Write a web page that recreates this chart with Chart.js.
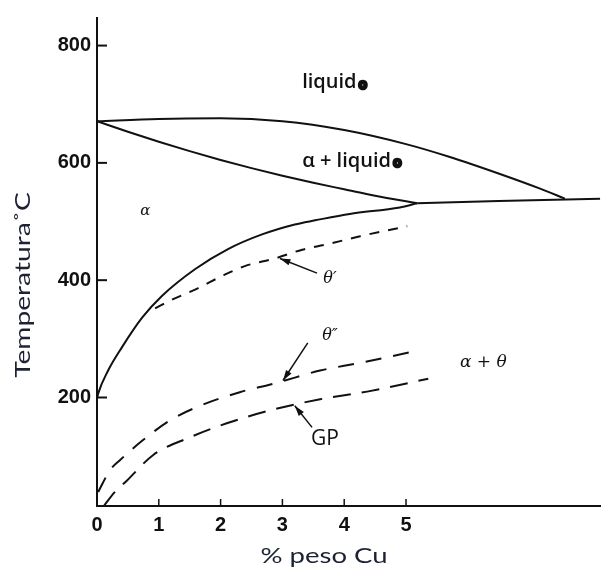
<!DOCTYPE html>
<html>
<head>
<meta charset="utf-8">
<script src="https://cdn.jsdelivr.net/npm/chart.js@4.4.1/dist/chart.umd.min.js"></script>
<style>
  html, body { margin: 0; padding: 0; background: #fff; }
  #wrap { width: 601px; height: 570px; }
</style>
</head>
<body>
<div id="wrap"><canvas id="chart" width="601" height="570"></canvas></div>
<script>
// axis ticks
const xTicks = [0, 1, 2, 3, 4, 5];
const yTicks = [200, 400, 600, 800];

// phase boundaries (% Cu, °C)
const liquidus = [
  [0, 671], [1, 675], [2, 676], [3, 671], [4, 656], [5, 632],
  [5.71, 610], [6.52, 581], [7.17, 556], [7.57, 539]
];
const solidus = [
  [0, 671], [0.5, 653], [1, 636], [1.5, 620], [2, 605], [2.5, 591],
  [3, 578], [3.5, 566], [4, 555], [4.5, 544], [5.18, 531]
];
const eutectic = [[5.18, 531], [6.5, 535], [8.14, 539]];
const solvus = [
  [0, 198], [0.02, 207], [0.18, 246], [0.4, 285], [0.73, 336], [1.05, 373],
  [1.59, 419], [2.12, 453], [2.67, 478], [3.2, 495], [3.53, 502], [4.09, 513],
  [4.9, 524], [5.18, 531]
];
const thetaPrime = [
  [0.94, 352], [1.26, 369], [1.63, 386], [2.02, 407], [2.39, 424], [2.88, 437],
  [3.32, 452], [3.72, 461], [4.26, 475], [5.02, 492]
];
const thetaDouble = [
  [0.02, 39], [0.21, 76], [0.37, 93], [0.74, 127], [1.18, 161], [1.67, 186],
  [2.31, 209], [2.91, 225], [3.61, 246], [4.26, 259], [5.19, 280]
];
const gpZone = [
  [0.11, 15], [0.29, 39], [0.49, 59], [0.91, 102], [1.5, 132], [2.1, 156],
  [2.8, 178], [3.61, 197], [4.37, 210], [5.36, 232]
];

const INK = "#111";
const toXY = (arr) => arr.map(([x, y]) => ({ x, y }));

function lineSet(label, pts, dash) {
  return {
    label,
    data: toXY(pts),
    showLine: true,
    borderColor: INK,
    borderWidth: 2,
    borderDash: dash || [],
    pointRadius: 0,
    cubicInterpolationMode: "monotone",
    fill: false,
  };
}

// text labels and arrows in data units
const labels = [
  { text: "liquid", x: 3.32, y: 737, font: "600 20px 'Open Sans'", align: "left", dot: true },
  { text: "α + liquid", x: 3.32, y: 603, font: "600 20px 'Open Sans'", align: "left", dot: true },
  { text: "α", x: 0.78, y: 517, font: "italic 15px 'DejaVu Serif'", align: "center" },
  { text: "θ′", x: 3.77, y: 403, font: "italic 16px 'DejaVu Serif'", align: "center" },
  { text: "θ″", x: 3.77, y: 305, font: "italic 16px 'DejaVu Serif'", align: "center" },
  { text: "α + θ", x: 6.25, y: 259, font: "italic 17px 'DejaVu Serif'", align: "center" },
  { text: "GP", x: 3.69, y: 130, font: "21px 'Open Sans'", align: "center" },
];
const arrows = [
  { from: [3.56, 412], to: [2.96, 437] },
  { from: [3.41, 293], to: [3.01, 229] },
  { from: [3.48, 149], to: [3.2, 186] },
];

const decorations = {
  id: "decorations",
  afterDraw(chart) {
    const { ctx, scales: { x, y }, chartArea } = chart;
    ctx.save();
    ctx.strokeStyle = INK;
    ctx.fillStyle = INK;

    // inward tick marks
    ctx.lineWidth = 2;
    yTicks.forEach((v) => {
      const py = y.getPixelForValue(v);
      ctx.beginPath();
      ctx.moveTo(chartArea.left, py);
      ctx.lineTo(chartArea.left + 10, py);
      ctx.stroke();
    });
    ctx.lineWidth = 1.5;
    xTicks.slice(1).forEach((v) => {
      const px = x.getPixelForValue(v);
      ctx.beginPath();
      ctx.moveTo(px, chartArea.bottom);
      ctx.lineTo(px, chartArea.bottom - 7);
      ctx.stroke();
    });

    // region labels
    ctx.textBaseline = "middle";
    labels.forEach((l) => {
      ctx.font = l.font;
      ctx.textAlign = l.align;
      const px = x.getPixelForValue(l.x);
      const py = y.getPixelForValue(l.y);
      ctx.fillText(l.text, px, py);
      if (l.dot) {
        const w = ctx.measureText(l.text).width;
        ctx.font = "bold 14px 'Open Sans'";
        ctx.textAlign = "left";
        ctx.lineWidth = 2.5;
        ctx.strokeText("o", px + w + 2, py + 2);
        ctx.fillText("o", px + w + 2, py + 2);
      }
    });

    // arrows
    ctx.lineWidth = 1.5;
    arrows.forEach((a) => {
      const x0 = x.getPixelForValue(a.from[0]), y0 = y.getPixelForValue(a.from[1]);
      const x1 = x.getPixelForValue(a.to[0]), y1 = y.getPixelForValue(a.to[1]);
      const ang = Math.atan2(y1 - y0, x1 - x0);
      ctx.beginPath();
      ctx.moveTo(x0, y0);
      ctx.lineTo(x1, y1);
      ctx.stroke();
      ctx.beginPath();
      ctx.moveTo(x1, y1);
      ctx.lineTo(x1 - 11 * Math.cos(ang - 0.3), y1 - 11 * Math.sin(ang - 0.3));
      ctx.lineTo(x1 - 11 * Math.cos(ang + 0.3), y1 - 11 * Math.sin(ang + 0.3));
      ctx.closePath();
      ctx.fill();
    });

    // axis titles (source lettering is wide, so stretch along the text)
    ctx.fillStyle = "#1c2233";
    ctx.font = "22px Lato";
    ctx.textAlign = "center";
    ctx.save();
    ctx.translate(324, 556);
    ctx.scale(1.25, 1);
    ctx.fillText("% peso Cu", 0, 0);
    ctx.restore();
    ctx.translate(23, 285);
    ctx.rotate(-Math.PI / 2);
    ctx.scale(1.28, 1);
    ctx.fillText("Temperatura˚C", 0, 0);
    ctx.restore();
  },
};

new Chart(document.getElementById("chart"), {
  type: "scatter",
  data: {
    datasets: [
      lineSet("liquidus", liquidus),
      lineSet("solidus", solidus),
      lineSet("eutectic", eutectic),
      lineSet("solvus", solvus),
      lineSet("θ'", thetaPrime, [10, 9]),
      lineSet("θ''", thetaDouble, [16, 12]),
      lineSet("GP", gpZone, [18, 11]),
    ],
  },
  options: {
    responsive: false,
    animation: false,
    layout: { padding: { top: 15, left: 0, right: 0, bottom: 0 } },
    plugins: { legend: { display: false }, tooltip: { enabled: false } },
    scales: {
      x: {
        type: "linear",
        min: 0,
        max: 8.155,
        afterFit: (s) => { s.height = 64; },
        afterBuildTicks: (s) => { s.ticks = xTicks.map((v) => ({ value: v })); },
        grid: { display: false, drawTicks: false },
        border: { display: true, color: INK, width: 2 },
        ticks: {
          padding: 7,
          color: INK,
          font: { family: "'Liberation Sans'", size: 20, weight: "bold" },
          autoSkip: false,
          maxRotation: 0,
        },
      },
      y: {
        type: "linear",
        min: 15,
        max: 847,
        afterFit: (s) => { s.width = 97; },
        afterBuildTicks: (s) => { s.ticks = yTicks.map((v) => ({ value: v })); },
        grid: { display: false, drawTicks: false },
        border: { display: true, color: INK, width: 2 },
        ticks: {
          padding: 6,
          color: INK,
          font: { family: "'Liberation Sans'", size: 20, weight: "bold" },
        },
      },
    },
  },
  plugins: [decorations],
});
</script>
</body>
</html>
